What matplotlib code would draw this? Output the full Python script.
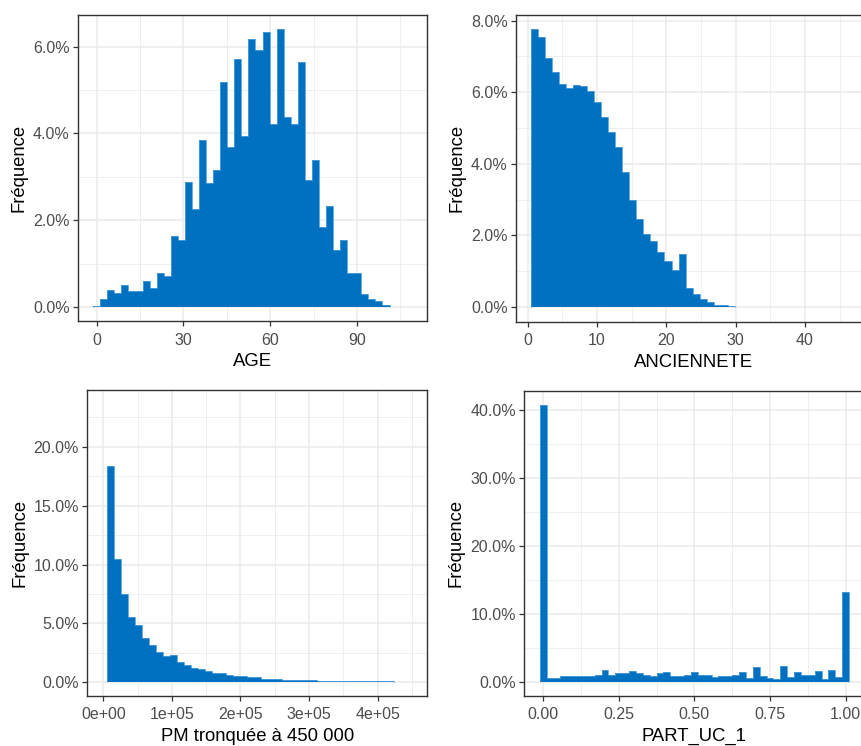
import numpy as np
import matplotlib
matplotlib.use("Agg")
import matplotlib.pyplot as plt
from matplotlib.ticker import FixedLocator, FuncFormatter

plt.rcParams['font.family'] = ['Liberation Sans', 'DejaVu Sans']

# ---------------- data (frequencies in %) ----------------
age_heights = [0.03, 0.19, 0.40, 0.32, 0.52, 0.37, 0.37, 0.61, 0.44, 0.79, 0.71,
               1.63, 1.54, 2.89, 2.26, 3.85, 2.86, 3.16, 5.18, 3.68, 5.71, 3.94,
               6.18, 5.92, 6.34, 4.21, 6.40, 4.39, 4.21, 5.65, 2.92, 3.39, 1.84,
               2.34, 1.31, 1.54, 0.78, 0.78, 0.31, 0.19, 0.13, 0.04]
age_range = (-1.22, 101.22)

anc_heights = [7.76, 7.53, 6.95, 6.56, 6.23, 6.12, 6.19, 6.16, 6.04, 5.72, 5.32,
               4.88, 4.48, 3.78, 2.99, 2.45, 2.05, 1.83, 1.54, 1.28, 1.02, 1.49,
               0.52, 0.36, 0.22, 0.15, 0.07, 0.07, 0.04]
anc_range = (0.43, 29.9)

pm_heights = [18.33, 10.46, 7.49, 5.54, 4.86, 3.72, 3.19, 2.53, 2.19, 2.31, 1.74,
              1.51, 1.20, 1.09, 0.98, 0.78, 0.78, 0.66, 0.55, 0.55, 0.44, 0.44,
              0.32, 0.32, 0.32, 0.21, 0.21, 0.21, 0.21, 0.21, 0.10, 0.10, 0.10,
              0.10, 0.10, 0.10, 0.10, 0.10, 0.10, 0.10, 0.10]
pm_range = (5000, 5000 + 41 * 10200)

uc_heights = [40.7, 0.68, 0.68, 0.92, 0.92, 0.92, 0.92, 0.92, 1.12, 1.80, 1.12,
              1.32, 1.32, 1.61, 1.32, 1.12, 0.92, 1.30, 1.47, 0.92, 0.92, 1.12,
              1.47, 1.00, 1.12, 0.82, 0.92, 0.92, 1.12, 1.47, 0.68, 2.20, 0.92,
              0.70, 0.45, 2.35, 0.82, 1.47, 1.12, 1.12, 1.61, 0.45, 1.80, 0.82,
              13.25]
uc_range = (-1 / 88, 1 + 1 / 88)

age_xticks = [0, 30, 60, 90]
anc_xticks = [0, 10, 20, 30, 40]
pm_xticks = [0, 100000, 200000, 300000, 400000]
pm_xticklabels = ["0e+00", "1e+05", "2e+05", "3e+05", "4e+05"]
uc_xticks = [0.0, 0.25, 0.5, 0.75, 1.0]
uc_xticklabels = ["0.00", "0.25", "0.50", "0.75", "1.00"]

# ---------------- figure ----------------
W, H = 862, 746
fig = plt.figure(figsize=(W / 100, H / 100), dpi=100)
fig.patch.set_facecolor("white")

FILL = "#0070C0"
EDGE = "#4f9fdc"
GRID = "#EBEBEB"
DARK = "#333333"
TICKLAB = "#4D4D4D"


def px_axes(l, r, t, b):
    return fig.add_axes([l / W, 1 - b / H, (r - l) / W, (b - t) / H])


def style(ax, xmaj, xmin, ymaj, ymin, xlim, ylim, xlabel, xfmt=None, yfmt=None):
    ax.set_xlim(*xlim)
    ax.set_ylim(*ylim)
    ax.xaxis.set_major_locator(FixedLocator(xmaj))
    ax.xaxis.set_minor_locator(FixedLocator(xmin))
    ax.yaxis.set_major_locator(FixedLocator(ymaj))
    ax.yaxis.set_minor_locator(FixedLocator(ymin))
    if xfmt is not None:
        ax.xaxis.set_major_formatter(xfmt)
    ax.yaxis.set_major_formatter(yfmt if yfmt is not None else
                                 FuncFormatter(lambda v, p: f"{v:.1f}%"))
    ax.grid(which="major", color=GRID, lw=1.1, zorder=0)
    ax.grid(which="minor", color=GRID, lw=0.55, zorder=0)
    ax.set_axisbelow(True)
    for s in ax.spines.values():
        s.set_color(DARK)
        s.set_linewidth(1.0)
        s.set_zorder(5)
    ax.tick_params(which="major", length=3.4, width=0.9, color=DARK,
                   labelsize=11.5, labelcolor=TICKLAB)
    ax.tick_params(axis="x", which="major", pad=5)
    ax.tick_params(axis="y", which="major", pad=2.5)
    ax.tick_params(which="minor", length=0)
    ax.set_xlabel(xlabel, fontsize=13.3, color="black", labelpad=4.2)
    ax.set_ylabel("Fréquence", fontsize=13.3, color="black", labelpad=4)


def hist(ax, heights, rng):
    edges = np.linspace(rng[0], rng[1], len(heights) + 1)
    ax.stairs(heights, edges, fill=True, color=FILL, baseline=0, zorder=2)
    ax.stairs(heights, edges, fill=False, color=EDGE, lw=0.6, baseline=0, zorder=3)


# Panel 1: AGE
ax1 = px_axes(78, 427, 15, 321)
hist(ax1, age_heights, age_range)
style(ax1, age_xticks, [15, 45, 75, 105], [0, 2, 4, 6], [1, 3, 5],
      (-6.46, 114.17), (-0.32, 6.73), "AGE")

# Panel 2: ANCIENNETE
ax2 = px_axes(515.7, 872, 15, 321.7)
hist(ax2, anc_heights, anc_range)
style(ax2, anc_xticks, [5, 15, 25, 35, 45], [0, 2, 4, 6, 8], [1, 3, 5, 7],
      (-1.73, (872 - 527.7) / 6.93), (-0.41, 8.156), "ANCIENNETE")

# Panel 3: PM
ax3 = px_axes(87.3, 427, 390.3, 695.7)
hist(ax3, pm_heights, pm_range)
style(ax3, pm_xticks, [50000, 150000, 250000, 350000, 450000],
      [0, 5, 10, 15, 20], [2.5, 7.5, 12.5, 17.5, 22.5],
      (-23300, 472000), (-1.14, 24.8), "PM tronquée à 450 000",
      xfmt=FuncFormatter(lambda v, p: pm_xticklabels[pm_xticks.index(int(round(v)))]
                         if int(round(v)) in pm_xticks else ""))

# Panel 4: PART_UC_1
ax4 = px_axes(524.3, 864.5, 390.7, 695.7)
hist(ax4, uc_heights, uc_range)
style(ax4, uc_xticks, [0.125, 0.375, 0.625, 0.875], [0, 10, 20, 30, 40],
      [5, 15, 25, 35], (-0.0625, 1.0625), (-1.97, 42.79), "PART_UC_1",
      xfmt=FuncFormatter(lambda v, p: f"{v:.2f}"))

fig.savefig("out.png", dpi=100, facecolor="white")
